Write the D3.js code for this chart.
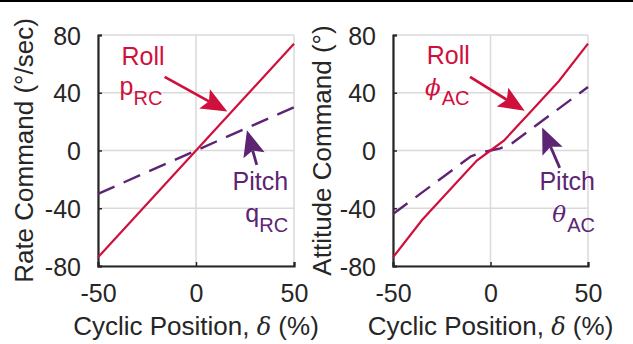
<!DOCTYPE html>
<html>
<head>
<meta charset="utf-8">
<script src="https://cdn.jsdelivr.net/npm/d3@7"></script>
<style>
  body { margin: 0; background: #fff; }
  svg { display: block; }
  text { font-family: "Liberation Sans", Arial, sans-serif; fill: #262626; }
</style>
</head>
<body>
<svg id="chart" width="633" height="344"></svg>
<script>
// values
var xTicks = [-50, 0, 50];
var yTicks = [-80, -40, 0, 40, 80];

var rateRoll = [[-50, -74], [50, 74]];
var ratePitch = [[-50, -30], [50, 30]];

var attRoll = [[-50, -74], [-35, -48], [-20, -26], [-7, -7], [0, 0], [7, 7], [20, 26], [35, 48], [50, 74]];
var attPitch = [[-50, -44], [-10, -4], [-5, -1.5], [0, 0], [5, 1.5], [10, 4], [50, 44]];

// annotation arrows: [tailX, tailY, tipX, tipY] in data units
var rateRollArrow = [-16, 51, 16, 27];
var ratePitchArrow = [31, -10, 26, 14];
var attRollArrow = [-10.5, 51, 17.5, 27.5];
var attPitchArrow = [35.5, -12, 26.5, 16];

var red = "#d0103c";
var purple = "#5d2474";

var svg = d3.select("#chart");
svg.append("rect").attr("x", 0).attr("y", 0).attr("width", 633).attr("height", 2).attr("fill", "#000");

function arrow(g, x, y, a, color) {
    var x1 = x(a[0]), y1 = y(a[1]), x2 = x(a[2]), y2 = y(a[3]);
    var ang = Math.atan2(y2 - y1, x2 - x1);
    var len = Math.hypot(x2 - x1, y2 - y1);
    var L = 26, W = 11, notch = 5;
    var ga = g.append("g").attr("transform", "translate(" + x2 + "," + y2 + ") rotate(" + (ang * 180 / Math.PI) + ")");
    ga.append("line").attr("x1", -len).attr("y1", 0).attr("x2", -L + notch).attr("y2", 0)
        .attr("stroke", color).attr("stroke-width", 2.8);
    ga.append("path").attr("d", "M0,0L" + (-L) + "," + (-W) + "L" + (-L + notch) + ",0L" + (-L) + "," + W + "Z")
        .attr("fill", color);
}

function label(g, px, py, main, sub, color, anchor, greek, subDy) {
    var t = g.append("text").attr("x", px).attr("y", py).attr("text-anchor", anchor)
        .style("fill", color).style("font-size", "25px");
    var m = t.append("tspan").text(main);
    if (greek) m.style("font-family", "'DejaVu Serif', serif").style("font-style", "italic").style("font-size", "23px");
    t.append("tspan").attr("dy", subDy).attr("dx", greek ? 1 : 0).style("font-size", "20px").text(sub);
    return t;
}

function panel(opt) {
    var x = d3.scaleLinear().domain([-50, 50]).range([opt.left, opt.right]);
    var y = d3.scaleLinear().domain([-80, 80]).range([266, 35]);
    var g = svg.append("g");

    // grid
    g.selectAll(".gx").data(xTicks).enter().append("line")
        .attr("x1", function(d) { return x(d); }).attr("x2", function(d) { return x(d); })
        .attr("y1", y(-80)).attr("y2", y(80))
        .attr("stroke", "#dadada").attr("stroke-width", 1.5);
    g.selectAll(".gy").data(yTicks).enter().append("line")
        .attr("x1", x(-50)).attr("x2", x(50))
        .attr("y1", function(d) { return y(d); }).attr("y2", function(d) { return y(d); })
        .attr("stroke", "#dadada").attr("stroke-width", 1.5);

    // axes
    var fmt = function(d) { return String(d); };
    var ax = g.append("g").attr("transform", "translate(0," + y(-80) + ")")
        .call(d3.axisBottom(x).tickValues(xTicks).tickSize(-4).tickPadding(18).tickFormat(fmt));
    var ay = g.append("g").attr("transform", "translate(" + x(-50) + ",0)")
        .call(d3.axisLeft(y).tickValues(yTicks).tickSize(-4).tickPadding(17).tickFormat(fmt));
    [ax, ay].forEach(function(a) {
        a.select(".domain").attr("stroke", "#262626").attr("stroke-width", 2.2);
        a.selectAll(".tick line").attr("stroke", "#262626").attr("stroke-width", 1.5);
        a.selectAll(".tick text").attr("font-family", null).attr("font-size", null)
            .style("font-size", "25px").style("fill", "#262626");
    });
    ay.selectAll(".tick text").attr("dy", "0.36em");

    // lines
    var line = d3.line().x(function(d) { return x(d[0]); }).y(function(d) { return y(d[1]); });
    g.append("path").datum(opt.pitch).attr("d", line).attr("fill", "none")
        .attr("stroke", purple).attr("stroke-width", 2.4).attr("stroke-dasharray", "18,10");
    g.append("path").datum(opt.roll).attr("d", line).attr("fill", "none")
        .attr("stroke", red).attr("stroke-width", 2.2);

    arrow(g, x, y, opt.rollArrow, red);
    arrow(g, x, y, opt.pitchArrow, purple);

    // annotations
    g.append("text").attr("x", x(opt.rollText[0])).attr("y", y(opt.rollText[1]))
        .style("fill", red).style("font-size", "25px").text("Roll");
    label(g, x(opt.rollSym[0]), y(opt.rollSym[1]), opt.rollSym[2], opt.rollSym[3], red, "start", opt.greek, 10);
    g.append("text").attr("x", x(opt.pitchText[0])).attr("y", y(opt.pitchText[1]))
        .attr("text-anchor", "end").style("fill", purple).style("font-size", "25px").text("Pitch");
    label(g, x(opt.pitchSym[0]), y(opt.pitchSym[1]), opt.pitchSym[2], opt.pitchSym[3], purple, "end", opt.greek, 10);

    // titles
    var xt = svg.append("text").attr("x", (opt.left + opt.right) / 2).attr("y", 335)
        .attr("text-anchor", "middle").style("font-size", "26px");
    xt.append("tspan").text("Cyclic Position, ");
    xt.append("tspan").style("font-family", "'DejaVu Serif', serif").style("font-style", "italic").style("font-size", "24px").text("δ");
    xt.append("tspan").text(" (%)");

    svg.append("text").attr("transform", "translate(" + opt.ytx + ",150.5) rotate(-90)")
        .attr("text-anchor", "middle").style("font-size", "26px").text(opt.ytitle);
}

panel({
    left: 98, right: 294, ytx: 33, ytitle: "Rate Command (°/sec)",
    roll: rateRoll, pitch: ratePitch,
    rollArrow: rateRollArrow, pitchArrow: ratePitchArrow,
    rollText: [-38, 59.5], rollSym: [-39, 38.5, "p", "RC"],
    pitchText: [47, -27.2], pitchSym: [47, -49.3, "q", "RC"],
    greek: false
});
panel({
    left: 393, right: 588, ytx: 331, ytitle: "Attitude Command (°)",
    roll: attRoll, pitch: attPitch,
    rollArrow: attRollArrow, pitchArrow: attPitchArrow,
    rollText: [-32.7, 60], rollSym: [-33.6, 38.6, "ϕ", "AC"],
    pitchText: [53.6, -27.2], pitchSym: [53.6, -49.3, "θ", "AC"],
    greek: true
});
</script>
</body>
</html>
